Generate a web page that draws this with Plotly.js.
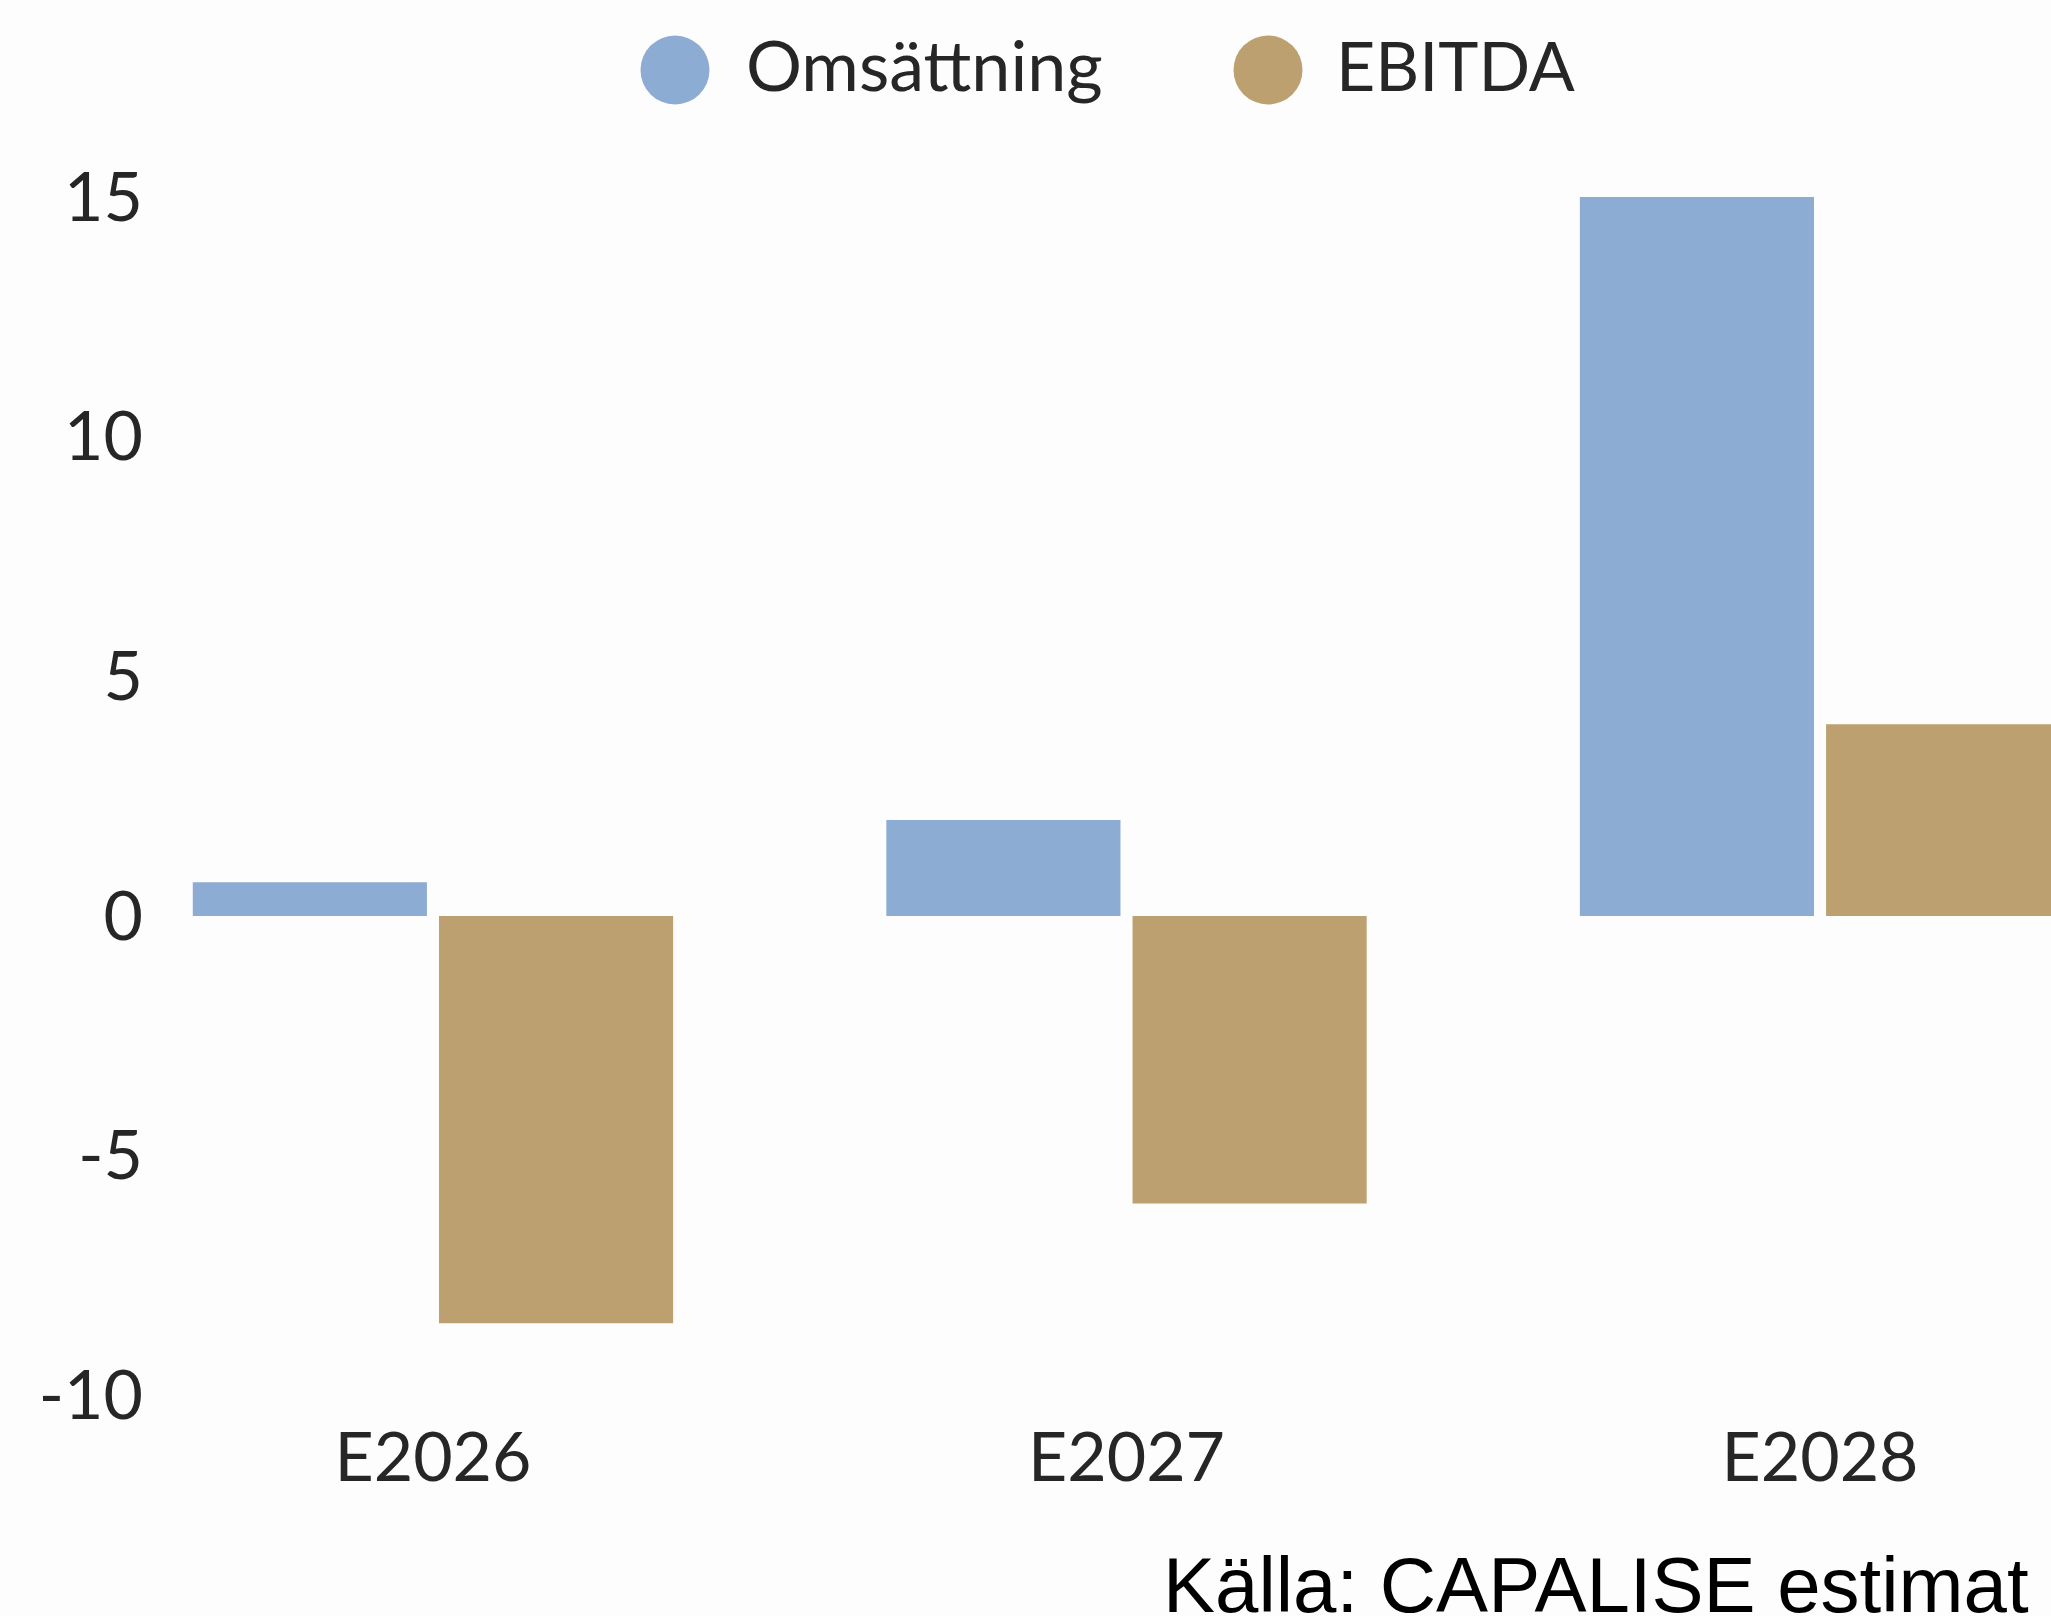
<!DOCTYPE html>
<html>
<head>
<meta charset="utf-8">
<script src="https://cdn.plot.ly/plotly-3.0.1.min.js"></script>
<style>
  html, body { margin: 0; padding: 0; background: #fdfdfd; }
  #chart { width: 2051px; height: 1616px; }
</style>
</head>
<body>
<div id="chart"></div>
<script>
// ---- Data ----
const categories = ['E2026', 'E2027', 'E2028'];
const omsattning = [0.7, 2.0, 15.0];
const ebitda = [-8.5, -6.0, 4.0];
const seriesNames = ['Omsättning', 'EBITDA'];
const yTickVals = [-10, -5, 0, 5, 10, 15];
const yTickText = ['-10', '-5', '0', '5', '10', '15'];
const sourceText = 'Källa: CAPALISE estimat';

// ---- Style ----
const W = 2051, H = 1616;
const M = { l: 150, r: 0, t: 125, b: 204 };
const colors = ['#8dacd3', '#bda070'];
const textColor = '#262626';
const fontFamily = 'Lato, "Open Sans", sans-serif';
const fontSize = 68;

const plotW = W - M.l - M.r, plotH = H - M.t - M.b;
const px2x = px => (px - M.l) / plotW;
const py2y = py => (H - M.b - py) / plotH;

const traces = [
  { type: 'bar', name: seriesNames[0], x: categories, y: omsattning,
    marker: { color: colors[0] }, showlegend: false, hoverinfo: 'x+y' },
  { type: 'bar', name: seriesNames[1], x: categories, y: ebitda,
    marker: { color: colors[1] }, showlegend: false, hoverinfo: 'x+y' }
];

// Legend drawn as circles + labels
const legendItems = [
  { cx: 675, text: seriesNames[0], tx: 744, color: colors[0], size: 70 },
  { cx: 1268, text: seriesNames[1], tx: 1334, color: colors[1], size: 68 }
];
const legendY = 70, legendD = 69;

const shapes = legendItems.map(it => ({
  type: 'circle', xref: 'paper', yref: 'paper',
  xsizemode: 'pixel', ysizemode: 'pixel',
  xanchor: px2x(it.cx), yanchor: py2y(legendY),
  x0: -legendD / 2, x1: legendD / 2, y0: -legendD / 2, y1: legendD / 2,
  fillcolor: it.color, line: { width: 0 }
}));

const annotations = legendItems.map(it => ({
  xref: 'paper', yref: 'paper', x: px2x(it.tx), y: py2y(64),
  xanchor: 'left', yanchor: 'middle', showarrow: false, text: it.text,
  font: { family: fontFamily, size: it.size, color: textColor }
}));
annotations.push({
  xref: 'paper', yref: 'paper', x: px2x(2031), y: py2y(1616),
  xanchor: 'right', yanchor: 'bottom', yshift: -15, showarrow: false,
  text: sourceText,
  font: { family: '"Liberation Sans", Arial, sans-serif', size: 78, color: '#000000' }
});

const layout = {
  width: W, height: H,
  margin: { l: M.l, r: M.r, t: M.t, b: M.b, pad: 0 },
  paper_bgcolor: '#fdfdfd', plot_bgcolor: '#fdfdfd',
  barmode: 'group', bargap: 0.29, bargroupgap: 0.049,
  showlegend: false,
  xaxis: {
    type: 'category', range: [-0.408, 2.333],
    showgrid: false, zeroline: false, showline: false, ticks: '',
    tickfont: { family: fontFamily, size: fontSize, color: textColor }
  },
  yaxis: {
    range: [-10.35, 16.5], tickvals: yTickVals, ticktext: yTickText,
    showgrid: false, zeroline: false, showline: false, ticks: '',
    ticklabelstandoff: 6,
    tickfont: { family: fontFamily, size: fontSize, color: textColor }
  },
  shapes: shapes,
  annotations: annotations
};

Plotly.newPlot('chart', traces, layout, { displayModeBar: false, staticPlot: true });
</script>
</body>
</html>
